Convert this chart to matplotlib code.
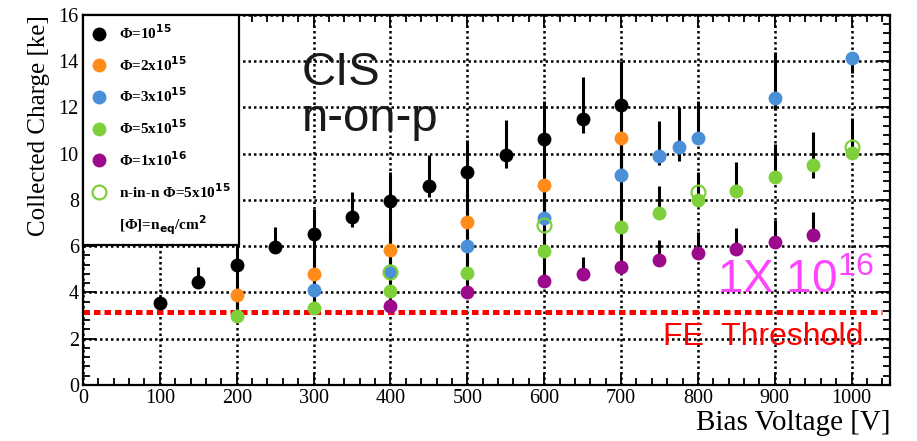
import numpy as np
import matplotlib
matplotlib.use('Agg')
import matplotlib.pyplot as plt
from matplotlib.lines import Line2D
from matplotlib.font_manager import FontProperties
from matplotlib.ticker import MultipleLocator

plt.rcParams['mathtext.fontset'] = 'custom'
plt.rcParams['mathtext.rm'] = 'Liberation Sans'

# data
v1 = [100, 150, 200, 250, 300, 350, 400, 450, 500, 550, 600, 650, 700]
q1 = [3.55, 4.45, 5.2, 5.95, 6.55, 7.25, 7.95, 8.6, 9.2, 9.95, 10.65, 11.5, 12.1]
up1 = [0, 0.65, 0.9, 0.9, 1.05, 1.1, 1.25, 1.35, 1.4, 1.5, 1.65, 1.8, 1.9]
dn1 = [0, 0, 2.2, 0, 2.4, 0.4, 2.1, 0.45, 2.1, 0.55, 3.5, 0.6, 3.0]

v2 = [200, 300, 400, 500, 600, 700]
q2 = [3.9, 4.8, 5.85, 7.05, 8.65, 10.7]
up2 = [0.5, 0.7, 1.0, 1.2, 1.0, 1.3]
dn2 = [0.9, 0.7, 1.0, 1.1, 1.5, 1.6]

v3 = [300, 400, 500, 600, 700, 750, 775, 800, 900, 1000]
q3 = [4.1, 4.95, 6.0, 7.2, 9.1, 9.9, 10.3, 10.7, 12.4, 14.15]
up3 = [0.6, 0.9, 1.0, 1.5, 1.6, 1.5, 1.7, 1.6, 2.0, 0]
dn3 = [0.7, 0.9, 1.2, 1.0, 1.2, 0.4, 0.6, 0, 0.5, 0.65]

v5 = [200, 300, 400, 500, 600, 700, 750, 800, 850, 900, 950, 1000]
q5 = [3.0, 3.35, 4.05, 4.85, 5.8, 6.85, 7.45, 8.0, 8.4, 9.0, 9.5, 10.05]
up5 = [0.5, 0.6, 0.8, 1.0, 1.1, 1.2, 1.15, 1.2, 1.25, 1.4, 1.45, 1.5]
dn5 = [0, 0, 0, 0.4, 0.6, 1.0, 0, 0, 0, 0, 0.55, 0]

v10 = [400, 500, 600, 650, 700, 750, 800, 850, 900, 950]
q10 = [3.4, 4.0, 4.5, 4.8, 5.1, 5.4, 5.7, 5.9, 6.2, 6.5]
up10 = [0.5, 0.6, 1.3, 0.75, 1.0, 0.85, 0.9, 0.9, 0.95, 1.0]
dn10 = [0, 0, 0, 0, 0, 0.25, 0, 0, 0, 0.25]

v_nn = [400, 600, 800, 1000]
q_nn = [4.9, 6.9, 8.35, 10.3]

threshold = 3.15

c_orange = '#ff8c1a'
c_blue = '#4a90d9'
c_green = '#7ed03a'
c_purple = '#9c0a8c'

fig = plt.figure(figsize=(9.17, 4.41), dpi=100)
ax = fig.add_axes([0.0905, 0.127, 0.8801, 0.839])

series = [
    (v1, q1, up1, dn1, 'black', r'Φ=10$^{\mathbf{15}}$'),
    (v2, q2, up2, dn2, c_orange, r'Φ=2x10$^{\mathbf{15}}$'),
    (v3, q3, up3, dn3, c_blue, r'Φ=3x10$^{\mathbf{15}}$'),
    (v5, q5, up5, dn5, c_green, r'Φ=5x10$^{\mathbf{15}}$'),
    (v10, q10, up10, dn10, c_purple, r'Φ=1x10$^{\mathbf{16}}$'),
]
handles = []
for v, q, up, dn, col, lab in series:
    ax.errorbar(v, q, yerr=[dn, up], fmt='none', ecolor='black', elinewidth=2.2, capsize=0, zorder=3)
    ax.plot(v, q, 'o', color=col, ms=10, mew=0, zorder=4)
    handles.append(Line2D([], [], marker='o', ls='none', color=col, ms=10, mew=0, label=lab))

ax.plot(v_nn, q_nn, 'o', mfc='none', mec=c_green, ms=10, mew=1.6, zorder=5)
handles.append(Line2D([], [], marker='o', ls='none', mfc='none', mec=c_green, ms=10, mew=1.6,
                      label=r'n-in-n Φ=5x10$^{\mathbf{15}}$'))
handles.append(Line2D([], [], ls='none', marker='none', label=r'[Φ]=n$_{\mathbf{eq}}$/cm$^{\mathbf{2}}$'))

ax.hlines(threshold, 0, 1040, colors='#ff0000', linewidth=3.6, linestyles=(0, (1.3, 0.8)), zorder=2)

ax.set_xlim(0, 1050)
ax.set_ylim(0, 16)
ax.xaxis.set_major_locator(MultipleLocator(100))
ax.xaxis.set_minor_locator(MultipleLocator(20))
ax.yaxis.set_major_locator(MultipleLocator(2))
ax.yaxis.set_minor_locator(MultipleLocator(0.4))
ax.tick_params(which='both', direction='in', top=True, right=True, width=1.3)
ax.tick_params(which='major', length=9, pad=3)
ax.tick_params(which='minor', length=5)
for lbl in ax.get_xticklabels() + ax.get_yticklabels():
    lbl.set_fontfamily('Liberation Serif')
    lbl.set_fontsize(14.5)
for s in ax.spines.values():
    s.set_linewidth(1.6)

ax.grid(True, which='major', color='black', linestyle=(0, (1, 1.2)), linewidth=1.8, zorder=1)
ax.set_axisbelow(True)

ax.set_xlabel('Bias Voltage [V]', loc='right', fontfamily='Liberation Serif', fontsize=21, labelpad=1)
ax.set_ylabel('Collected Charge [ke]', loc='top', fontfamily='Liberation Serif', fontsize=18, labelpad=6)

ax.text(285, 14.45, 'CIS\nn-on-p', ha='left', va='top', fontfamily='Liberation Sans', fontsize=34,
        color='#1a1a1a', linespacing=1.05, zorder=6)
ax.text(825, 3.98, r'1X 10$^{16}$', ha='left', va='baseline', fontfamily='Liberation Sans', fontsize=33,
        color='#ff44ff', zorder=6)
ax.text(754, 1.73, 'FE  Threshold', ha='left', va='baseline', fontfamily='Liberation Sans', fontsize=23,
        color='#ff0000', zorder=6)

lp = FontProperties(family='Liberation Serif', weight='bold', size=11)
leg = ax.legend(handles=handles, loc='upper left', bbox_to_anchor=(0, 1), borderaxespad=0,
                prop=lp, frameon=True, fancybox=False, edgecolor='black', framealpha=1,
                labelspacing=0.85, handlelength=1.0, handletextpad=0.8, borderpad=0.55)
leg.get_frame().set_linewidth(1.6)
leg.set_zorder(10)

fig.savefig('out.png', dpi=100)
